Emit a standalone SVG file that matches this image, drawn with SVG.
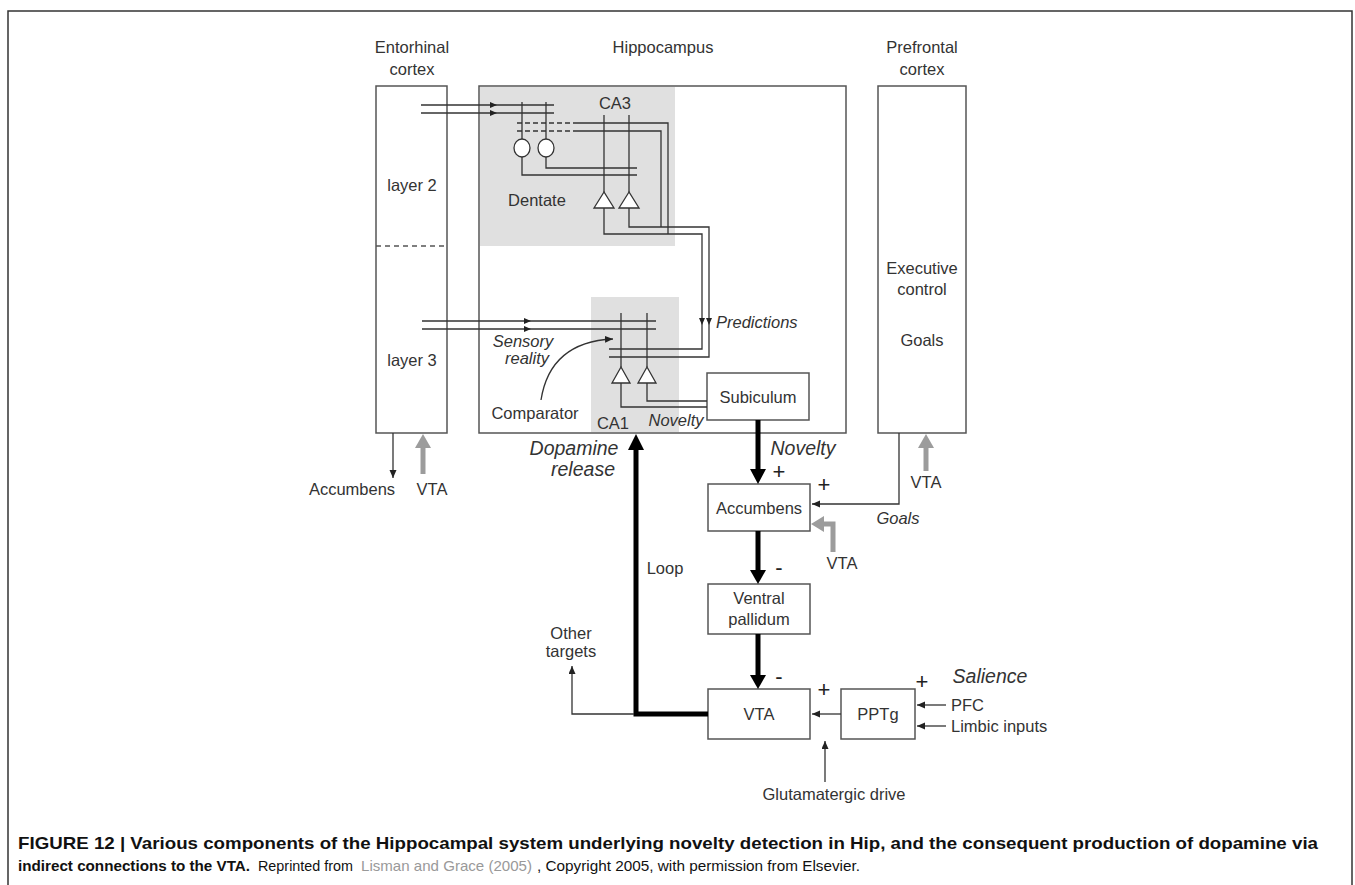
<svg xmlns="http://www.w3.org/2000/svg" width="1355" height="885" viewBox="0 0 1355 885">
<style>
.box{fill:#fff;stroke:#555;stroke-width:1.5}
.shade{fill:#e0e0e0;stroke:none}
.ln{fill:none;stroke:#333;stroke-width:1.3}
.dash{fill:none;stroke:#333;stroke-width:1.3;stroke-dasharray:5 3}
.thick{fill:none;stroke:#000;stroke-width:5}
.gray{fill:none;stroke:#9c9c9c;stroke-width:5}
.gh{fill:#9c9c9c}
.bh{fill:#000}
.sh{fill:#222}
.cell{fill:#fff;stroke:#333;stroke-width:1.3}
.t{font-family:"Liberation Sans",Arial,sans-serif;font-size:16.5px;fill:#333;text-anchor:middle}
.it{font-style:italic}
.big{font-size:19.5px;font-style:italic}
.st{text-anchor:start}
.sg{font-size:22px;fill:#222}
.cap{font-family:"Liberation Sans",Arial,sans-serif;font-size:17px;fill:#111}
.cap2{font-family:"Liberation Sans",Arial,sans-serif;font-size:15px;fill:#111}
.link{fill:#999}
</style>
<defs>
<marker id="ah" markerUnits="userSpaceOnUse" markerWidth="9" markerHeight="8" refX="8" refY="3.5" orient="auto">
<path d="M0,0 L8,3.5 L0,7 z" fill="#222"/>
</marker>
</defs>

<rect x="8" y="11" width="1344" height="890" fill="none" stroke="#333" stroke-width="1.5"/>

<g id="entorhinal">
<rect class="box" x="376" y="86" width="71" height="347"/>
<line x1="376" y1="246" x2="447" y2="246" stroke="#555" stroke-width="1.3" stroke-dasharray="5 4"/>
<text class="t" x="412" y="53">Entorhinal</text>
<text class="t" x="412" y="75">cortex</text>
<text class="t" x="412" y="191">layer 2</text>
<text class="t" x="412" y="366">layer 3</text>
</g>

<g id="hippocampus">
<rect class="box" x="479" y="86" width="367" height="347"/>
<rect class="shade" x="480" y="87" width="195" height="159"/>
<rect class="shade" x="591" y="297" width="88" height="135"/>
<text class="t" x="663" y="53">Hippocampus</text>
<text class="t" x="615" y="109">CA3</text>
<text class="t" x="537" y="206">Dentate</text>
<text class="t" x="613" y="429">CA1</text>
<text class="t it" x="676" y="426">Novelty</text>
<text class="t it" x="523" y="347">Sensory</text>
<text class="t it" x="527" y="364">reality</text>
<text class="t" x="535" y="419">Comparator</text>
<text class="t it st" x="716" y="328">Predictions</text>
</g>

<g id="prefrontal">
<rect class="box" x="878" y="86" width="88" height="347"/>
<text class="t" x="922" y="53">Prefrontal</text>
<text class="t" x="922" y="75">cortex</text>
<text class="t" x="922" y="274">Executive</text>
<text class="t" x="922" y="295">control</text>
<text class="t" x="922" y="346">Goals</text>
</g>

<g id="subiculum">
<rect class="box" x="707" y="373" width="102" height="47"/>
<text class="t" x="758" y="403">Subiculum</text>
</g>

<g id="accumbens">
<rect class="box" x="708" y="484" width="102" height="47"/>
<text class="t" x="759" y="514">Accumbens</text>
</g>

<g id="ventral-pallidum">
<rect class="box" x="708" y="584" width="102" height="50"/>
<text class="t" x="759" y="604">Ventral</text>
<text class="t" x="759" y="625">pallidum</text>
</g>

<g id="vta">
<rect class="box" x="708" y="689" width="102" height="50"/>
<text class="t" x="759" y="720">VTA</text>
</g>

<g id="pptg">
<rect class="box" x="841" y="689" width="74" height="50"/>
<text class="t" x="878" y="720">PPTg</text>
</g>

<g id="circuit">
<line class="ln" x1="421" y1="105" x2="554" y2="105"/>
<line class="ln" x1="421" y1="113" x2="554" y2="113"/>
<path class="sh" d="M490,102 L497,105 L490,108 z M490,110 L497,113 L490,116 z"/>
<line class="ln" x1="522" y1="102" x2="522" y2="139"/>
<line class="ln" x1="546" y1="102" x2="546" y2="139"/>
<line class="dash" x1="517" y1="123" x2="573" y2="123"/>
<line class="dash" x1="517" y1="131" x2="573" y2="131"/>
<polyline class="ln" points="573,123 668,123 668,234"/>
<polyline class="ln" points="573,131 661,131 661,227"/>
<ellipse class="cell" cx="522" cy="148" rx="8" ry="9"/>
<ellipse class="cell" cx="546" cy="148" rx="8" ry="9"/>
<polyline class="ln" points="522,157 522,175 637,175"/>
<polyline class="ln" points="546,157 546,168 637,168"/>
<line class="ln" x1="604" y1="115" x2="604" y2="192"/>
<line class="ln" x1="629" y1="115" x2="629" y2="192"/>
<polygon class="cell" points="604,192 594,208 614,208"/>
<polygon class="cell" points="629,192 619,208 639,208"/>
<polyline class="ln" points="604,208 604,234 702,234 702,349 609,349"/>
<polyline class="ln" points="629,208 629,227 709,227 709,357 609,357"/>
<path class="sh" d="M699,318 L702,325 L705,318 z M706,318 L709,325 L712,318 z"/>
<line class="ln" x1="422" y1="321" x2="656" y2="321"/>
<line class="ln" x1="422" y1="329" x2="656" y2="329"/>
<path class="sh" d="M524,318 L531,321 L524,324 z M524,326 L531,329 L524,332 z"/>
<line class="ln" x1="621" y1="313" x2="621" y2="367"/>
<line class="ln" x1="647" y1="313" x2="647" y2="367"/>
<polygon class="cell" points="621,367 612,383 630,383"/>
<polygon class="cell" points="647,367 638,383 656,383"/>
<polyline class="ln" points="621,383 621,407 707,407"/>
<polyline class="ln" points="647,383 647,401 707,401"/>
<path class="ln" d="M541,400 C547,362 570,341 613,339" marker-end="url(#ah)"/>
</g>

<g id="connectors">
<line class="ln" x1="393" y1="433" x2="393" y2="478" marker-end="url(#ah)"/>
<line class="gray" x1="423" y1="474" x2="423" y2="446"/>
<polygon class="gh" points="415,448 431,448 423,434"/>
<line class="gray" x1="926" y1="471" x2="926" y2="446"/>
<polygon class="gh" points="918,448 934,448 926,434"/>
<polyline class="gray" points="833,552 833,524 822,524"/>
<polygon class="gh" points="824,516 824,532 811,524"/>
<line class="thick" x1="758" y1="420" x2="758" y2="470"/>
<polygon class="bh" points="750,469 766,469 758,484"/>
<line class="thick" x1="758" y1="531" x2="758" y2="571"/>
<polygon class="bh" points="750,570 766,570 758,584"/>
<line class="thick" x1="758" y1="634" x2="758" y2="676"/>
<polygon class="bh" points="750,675 766,675 758,689"/>
<polyline class="thick" points="708,714 636,714 636,448"/>
<polygon class="bh" points="628,450 644,450 636,434"/>
<polyline class="ln" points="634,714 572,714 572,666" marker-end="url(#ah)"/>
<polyline class="ln" points="899,433 899,504 812,504" marker-end="url(#ah)"/>
<line class="ln" x1="841" y1="714" x2="812" y2="714" marker-end="url(#ah)"/>
<line class="ln" x1="825" y1="782" x2="825" y2="741" marker-end="url(#ah)"/>
<line class="ln" x1="946" y1="705" x2="917" y2="705" marker-end="url(#ah)"/>
<line class="ln" x1="946" y1="726" x2="917" y2="726" marker-end="url(#ah)"/>
</g>

<g id="labels">
<text class="t" x="352" y="495">Accumbens</text>
<text class="t" x="432" y="495">VTA</text>
<text class="t big" x="574" y="455">Dopamine</text>
<text class="t big" x="583" y="476">release</text>
<text class="t big" x="803" y="455">Novelty</text>
<text class="t sg" x="779" y="479">+</text>
<text class="t sg" x="824" y="492">+</text>
<text class="t" x="926" y="488">VTA</text>
<text class="t it" x="898" y="524">Goals</text>
<text class="t" x="842" y="569">VTA</text>
<text class="t sg" x="779" y="575">-</text>
<text class="t" x="665" y="574">Loop</text>
<text class="t" x="571" y="639">Other</text>
<text class="t" x="571" y="657">targets</text>
<text class="t sg" x="779" y="684">-</text>
<text class="t sg" x="824" y="697">+</text>
<text class="t sg" x="922" y="689">+</text>
<text class="t big" x="990" y="683">Salience</text>
<text class="t st" x="951" y="711">PFC</text>
<text class="t st" x="951" y="732">Limbic inputs</text>
<text class="t" x="834" y="800">Glutamatergic drive</text>
</g>

<g id="caption">
<text class="cap" x="18" y="849" font-weight="bold" textLength="1300" lengthAdjust="spacingAndGlyphs">FIGURE 12 | Various components of the Hippocampal system underlying novelty detection in Hip, and the consequent production of dopamine via</text>
<text class="cap2" x="18" y="871" font-weight="bold" textLength="232" lengthAdjust="spacingAndGlyphs">indirect connections to the VTA.</text>
<text class="cap2" x="258" y="871" textLength="95" lengthAdjust="spacingAndGlyphs">Reprinted from</text>
<text class="cap2 link" x="361" y="871" textLength="171" lengthAdjust="spacingAndGlyphs">Lisman and Grace (2005)</text>
<text class="cap2" x="537" y="871" textLength="323" lengthAdjust="spacingAndGlyphs">, Copyright 2005, with permission from Elsevier.</text>
</g>
</svg>
